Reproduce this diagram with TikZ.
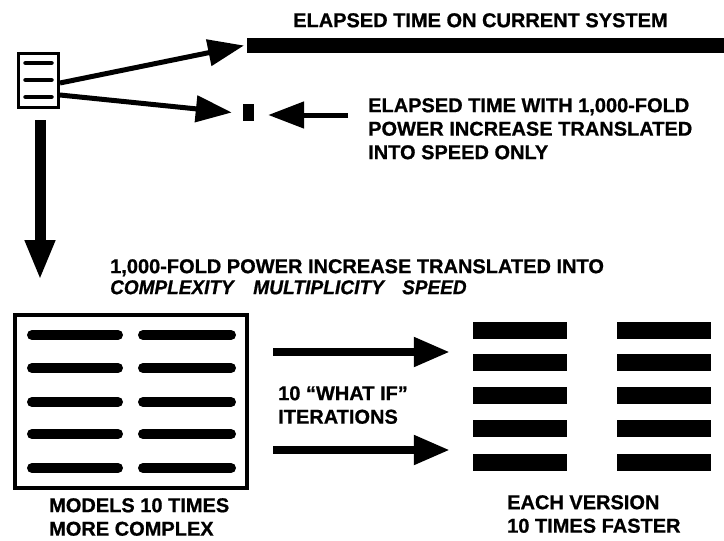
\documentclass[tikz,border=0pt]{standalone}
\usepackage{fontspec}
\setmainfont{Liberation Sans}[BoldFeatures={FakeBold=0.8},BoldItalicFeatures={FakeBold=0.8}]
\usetikzlibrary{arrows.meta}
\begin{document}
\begin{tikzpicture}[x=1pt,y=-1pt,
  lbl/.style={font=\bfseries\fontsize{20}{23.5}\selectfont, inner sep=0pt, anchor=north west, align=left},
  ilbl/.style={font=\bfseries\itshape\fontsize{20}{23.5}\selectfont, inner sep=0pt, anchor=north west},
  bigarrow/.style={line width=5pt, -{Triangle[length=36pt,width=26pt]}},
  midarrow/.style={line width=8pt, -{Triangle[length=36pt,width=28pt]}},
  downarrow/.style={line width=11pt, -{Triangle[length=40pt,width=28pt]}},
  stroke/.style={line width=10pt, line cap=round},
  bar/.style={fill=black, draw=none, inner sep=0pt, minimum width=94pt, minimum height=17pt}
]
\useasboundingbox (0,0) rectangle (724,541);
% small box
\node[draw, line width=3pt, minimum width=40pt, minimum height=54pt, inner sep=0pt] (sbox) at (38.5,80.5) {};
\foreach \yy in {63,80,97} \draw[line width=4.5pt, line cap=round] (25.5,\yy) -- (51.5,\yy);
% top bar
\node[fill=black, inner sep=0pt, minimum width=477pt, minimum height=15pt, anchor=west] (topbar) at (247,45.5) {};
% small dot
\node[fill=black, inner sep=0pt, minimum width=11pt, minimum height=17pt] (dot) at (248.5,112.5) {};
% texts
\node[lbl] (t1) at (293,13) {ELAPSED TIME ON CURRENT SYSTEM};
\node[lbl] (t2) at (368,98) {ELAPSED TIME WITH 1,000-FOLD\\POWER INCREASE TRANSLATED\\INTO SPEED ONLY};
\node[lbl] (t3) at (110,259) {1,000-FOLD POWER INCREASE TRANSLATED INTO};
\node[ilbl, xscale=0.95, anchor=north west] (c1) at (110,280) {COMPLEXITY};
\node[ilbl, xscale=0.96, anchor=north west] (c2) at (253,280) {MULTIPLICITY};
\node[ilbl, xscale=0.95, anchor=north west] (c3) at (402,280) {SPEED};
% arrows top
\draw[bigarrow] ([yshift=-2.5pt]sbox.east) -- ([xshift=-3pt]topbar.west);
\draw[bigarrow] ([yshift=-14.5pt]sbox.east) -- ([xshift=-11pt]dot.west);
\coordinate (a3s) at (348,115);
\draw[bigarrow] (a3s) -- ([xshift=14pt,yshift=-2.5pt]dot.east);
% down arrow
\draw[downarrow] ([xshift=1.5pt,yshift=-11pt]sbox.south) -- ([xshift=1.5pt]sbox.south |- 0,280);
% big box
\node[draw, line width=4pt, minimum width=232pt, minimum height=173pt, inner sep=0pt] (bbox) at (131,401.5) {};
\foreach \yy in {335,368,402,434,468} {
  \draw[stroke] (32,\yy) -- (118,\yy);
  \draw[stroke] (143,\yy) -- (231,\yy);
}
\node[lbl] (t4) at (49,498) {MODELS 10 TIMES\\MORE COMPLEX};
% right bars
\foreach \yy [count=\i] in {330,362,395,428,462} {
  \node[bar] (L\i) at (520,\yy) {};
  \node[bar] (R\i) at (663.5,\yy) {};
}
\node[lbl] (t5) at (507,495) {EACH VERSION\\10 TIMES FASTER};
% middle arrows
\coordinate (m1) at (273,352);
\coordinate (m2) at (273,450);
\draw[midarrow] (m1) -- ([xshift=-23pt]L1.west |- m1);
\draw[midarrow] (m2) -- ([xshift=-23pt]L1.west |- m2);
\node[lbl] (t6) at (278,386) {10 “WHAT IF”\\ITERATIONS};
\end{tikzpicture}
\end{document}
